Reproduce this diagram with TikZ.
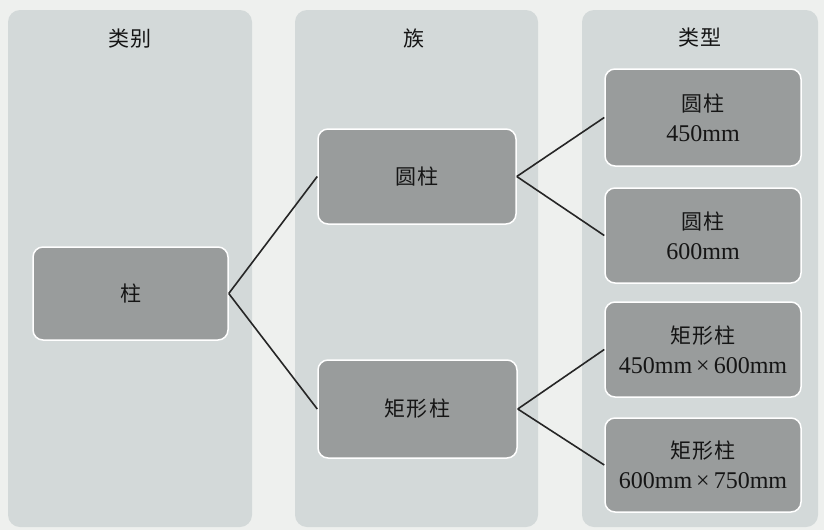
\documentclass[tikz,border=0pt]{standalone}
\usepackage{fontspec}
\setmainfont{Liberation Serif}
\newfontfamily\cjk[LetterSpace=6]{Noto Sans CJK SC}
\newcommand\zhtxt[1]{{\cjk\fontsize{21}{30}\selectfont #1}}
\definecolor{bgc}{HTML}{EEF0EE}
\definecolor{panelgray}{HTML}{D3D9D9}
\definecolor{boxgray}{HTML}{999C9C}
\definecolor{textc}{HTML}{151515}
\definecolor{linec}{HTML}{262626}
\begin{document}
\begin{tikzpicture}[x=1pt,y=-1pt,
  panel/.style={fill=panelgray, draw=none, rounded corners=12pt, minimum width=#1, inner sep=0pt, minimum height=517pt},
  box/.style={fill=boxgray, draw=white, line width=1.5pt, rounded corners=10pt, text=textc, align=center, inner sep=0pt, font=\fontsize{24}{30}\selectfont},
  link/.style={draw=linec, line width=1.6pt},
  hdr/.style={text=textc, inner sep=0pt}]
\fill[bgc] (0,0) rectangle (824,530);
\useasboundingbox (0,0) rectangle (824,530);
% panels
\node[panel=244pt] (p1) at (130,268.5) {};
\node[panel=243pt] (p2) at (416.5,268.5) {};
\node[panel=236pt] (p3) at (700,268.5) {};
% headers
\node[hdr] (h1) at (130,39) {\zhtxt{类别}};
\node[hdr] (h2) at (414,38) {\zhtxt{族}};
\node[hdr] (h3) at (700,38) {\zhtxt{类型}};
% boxes
\node[box, minimum width=195pt, minimum height=93pt] (zhu) at (130.5,293.5) {\zhtxt{柱}};
\node[box, minimum width=198pt, minimum height=95pt] (yz) at (417,176.5) {\zhtxt{圆柱}};
\node[box, minimum width=199pt, minimum height=98pt] (jx) at (417.5,409) {\zhtxt{矩形柱}};
\node[box, minimum width=196pt, minimum height=97pt] (t1) at (703,117.5) {\zhtxt{圆柱}\\450mm};
\node[box, minimum width=196pt, minimum height=95pt] (t2) at (703,235.5) {\zhtxt{圆柱}\\600mm};
\node[box, minimum width=196pt, minimum height=95pt] (t3) at (703,349.5) {\zhtxt{矩形柱}\\450mm\,×\,600mm};
\node[box, minimum width=196pt, minimum height=94pt] (t4) at (703,465) {\zhtxt{矩形柱}\\600mm\,×\,750mm};
% links
\draw[link] (zhu.east) -- (yz.west);
\draw[link] (zhu.east) -- (jx.west);
\draw[link] (yz.east) -- (t1.west);
\draw[link] (yz.east) -- (t2.west);
\draw[link] (jx.east) -- (t3.west);
\draw[link] (jx.east) -- (t4.west);
\end{tikzpicture}
\end{document}
